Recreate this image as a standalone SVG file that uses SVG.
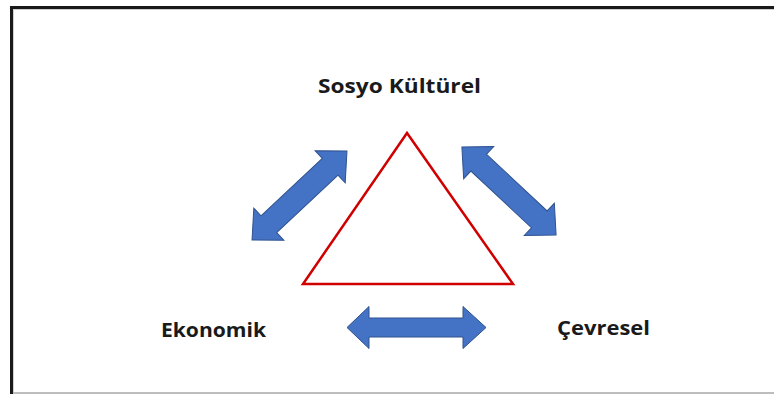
<svg xmlns="http://www.w3.org/2000/svg" width="774" height="394" viewBox="0 0 774 394">
<style>
.arrow{fill:#4472C4;stroke:#2F528F;stroke-width:1;stroke-linejoin:miter}
.lbl{font-family:"Open Sans","Liberation Sans",Arial,sans-serif;font-weight:bold;font-size:20px;fill:#1a1a1a}
</style>
<rect width="774" height="394" fill="#ffffff"/>
<g id="frame">
<line x1="10" y1="7.5" x2="774" y2="7.5" stroke="#1a1a1a" stroke-width="3"/>
<line x1="11.5" y1="6" x2="11.5" y2="394" stroke="#1a1a1a" stroke-width="3"/>
<line x1="13" y1="9.5" x2="774" y2="9.5" stroke="#d0d0d0" stroke-width="1"/>
<line x1="13.5" y1="9" x2="13.5" y2="394" stroke="#d0d0d0" stroke-width="1"/>
<line x1="13" y1="393" x2="774" y2="393" stroke="#bdbdbd" stroke-width="2"/>
</g>
<g id="triangle">
<polygon points="407,133 303,284 513,284" fill="none" stroke="#D00000" stroke-width="2.5" stroke-linejoin="miter"/>
</g>
<g id="connectors">
<path class="arrow" transform="translate(299.5,195.5) rotate(-43.1)" d="M-65,0 L-42,-22 L-42,-11.5 L42,-11.5 L42,-22 L65,0 L42,22 L42,11.5 L-42,11.5 L-42,22 Z"/>
<path class="arrow" transform="translate(509,191) rotate(43.1)" d="M-64.5,0 L-41.5,-22 L-41.5,-11.5 L41.5,-11.5 L41.5,-22 L64.5,0 L41.5,22 L41.5,11.5 L-41.5,11.5 L-41.5,22 Z"/>
<path class="arrow" transform="translate(416.5,327.5)" d="M-69.5,0 L-47.5,-21 L-47.5,-9.5 L46.5,-9.5 L46.5,-21 L69.5,0 L46.5,21 L46.5,9.5 L-47.5,9.5 L-47.5,21 Z"/>
</g>
<g id="node-sosyo">
<text class="lbl" x="318" y="93" textLength="163" lengthAdjust="spacingAndGlyphs">Sosyo Kültürel</text>
</g>
<g id="node-ekonomik">
<text class="lbl" x="161" y="337" textLength="105" lengthAdjust="spacingAndGlyphs">Ekonomik</text>
</g>
<g id="node-cevresel">
<text class="lbl" x="557" y="335" textLength="93" lengthAdjust="spacingAndGlyphs">Çevresel</text>
</g>
</svg>
